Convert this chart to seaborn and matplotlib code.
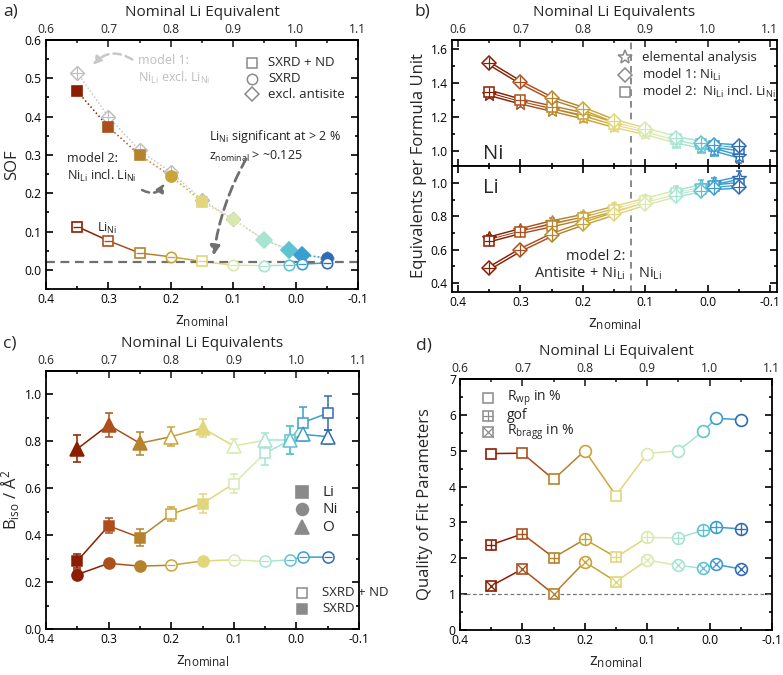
import numpy as np
import pandas as pd
import matplotlib
matplotlib.use("Agg")
import matplotlib.pyplot as plt
import seaborn as sns
from matplotlib.ticker import MultipleLocator, FixedLocator

# ---------------- data ----------------
z_nominal = [0.35, 0.30, 0.25, 0.20, 0.15, 0.10, 0.05, 0.01, -0.01, -0.05]
sample_colors = ['#8B1E00', '#AD4F1C', '#B7822C', '#C9A538', '#E2D67C',
                 '#D9E9AE', '#A7E4D1', '#5EC4D1', '#3C9DCF', '#2F6CB6']
method = ['SXRD+ND', 'SXRD+ND', 'SXRD+ND', 'SXRD', 'SXRD+ND',
          'SXRD', 'SXRD', 'SXRD', 'SXRD', 'SXRD']
top_ticks = [0.6, 0.7, 0.8, 0.9, 1.0, 1.1]
top_minor = [0.65, 0.75, 0.85, 0.95, 1.05]

# a) site occupancy fractions
sof_model1 = [0.515, 0.400, 0.312, 0.255, 0.183, 0.132, 0.078, 0.052, 0.040, 0.030]
sof_model2 = [0.466, 0.373, 0.300, 0.245, 0.178, 0.132, 0.078, 0.052, 0.039, 0.031]
shape_model2 = ['s', 's', 's', 'o', 's', 'o', 'D', 'D', 'D', 'o']
sof_lini = [0.113, 0.076, 0.044, 0.034, 0.022, 0.012, 0.011, 0.012, 0.015, 0.018]

# b) equivalents per formula unit
ni_model1 = [1.515, 1.404, 1.310, 1.250, 1.178, 1.128, 1.078, 1.048, 1.038, 1.028]
ni_model2 = [1.350, 1.298, 1.258, 1.218, 1.160, 1.120, 1.070, 1.042, 1.030, 1.010]
ni_elem = [1.335, 1.285, 1.242, 1.198, 1.147, 1.105, 1.055, 1.025, 1.008, 0.968]
li_model1 = [0.488, 0.598, 0.688, 0.755, 0.815, 0.875, 0.925, 0.955, 0.968, 0.978]
li_model2 = [0.655, 0.705, 0.745, 0.788, 0.838, 0.890, 0.940, 0.965, 0.980, 0.995]
li_elem = [0.668, 0.718, 0.765, 0.803, 0.852, 0.900, 0.948, 0.982, 0.998, 1.030]
elem_err = [0.02, 0.02, 0.025, 0.025, 0.03, 0.03, 0.035, 0.035, 0.035, 0.04]

# c) isotropic displacement parameters
biso_li = [0.290, 0.440, 0.390, 0.490, 0.535, 0.620, 0.750, 0.805, 0.880, 0.920]
biso_li_err = [0.030, 0.032, 0.035, 0.030, 0.040, 0.040, 0.050, 0.060, 0.065, 0.072]
biso_ni = [0.232, 0.280, 0.268, 0.272, 0.290, 0.295, 0.288, 0.295, 0.307, 0.306]
biso_ni_err = [0.020, 0.010, 0.010, 0.010, 0.010, 0.010, 0.010, 0.010, 0.010, 0.010]
biso_o = [0.768, 0.870, 0.792, 0.820, 0.857, 0.780, 0.805, 0.805, 0.830, 0.820]
biso_o_err = [0.058, 0.053, 0.050, 0.040, 0.040, 0.030, 0.030, 0.060, 0.030, 0.030]
filled_c = [True, True, True, False, True, False, False, False, False, False]

# d) quality of fit
rwp = [4.92, 4.93, 4.20, 5.00, 3.75, 4.92, 5.00, 5.55, 5.90, 5.87]
gof = [2.38, 2.68, 2.02, 2.53, 2.03, 2.58, 2.57, 2.78, 2.87, 2.82]
rbragg = [1.23, 1.70, 1.00, 1.90, 1.35, 1.95, 1.80, 1.72, 1.83, 1.70]

# ---------------- style ----------------
sns.set_theme(style="ticks")
plt.rcParams['font.family'] = ['Open Sans', 'DejaVu Sans']
plt.rcParams['mathtext.fontset'] = 'custom'
plt.rcParams['mathtext.rm'] = 'Open Sans'
plt.rcParams['mathtext.it'] = 'Open Sans:italic'
plt.rcParams['mathtext.bf'] = 'Open Sans:bold'
plt.rcParams['mathtext.default'] = 'regular'
plt.rcParams['axes.linewidth'] = 1.3
plt.rcParams['axes.edgecolor'] = 'black'

TICK_FS = 8.7
LAB_FS = 10.5
TXT_FS = 9

fig = plt.figure(figsize=(7.83, 6.75), dpi=100)


def shape_of(m):
    return 's' if m == 'SXRD+ND' else 'o'


def seg(ax, xs, ys, cols, **kw):
    for i in range(len(xs) - 1):
        sns.lineplot(x=list(xs[i:i + 2]), y=list(ys[i:i + 2]), color=cols[i], ax=ax,
                     sort=False, estimator=None, legend=False, **kw)


def mk(ax, x, y, shape, color, filled=True, inner=None, ms=7, mew=1.2, z=4, inner_scale=0.95,
       transform=None):
    kw = {}
    if transform is not None:
        kw = dict(transform=transform, clip_on=False)
    ax.plot([x], [y], marker=shape, ms=ms, mfc=color if filled else 'white', mec=color,
            mew=mew, ls='none', zorder=z, **kw)
    if inner:
        ax.plot([x], [y], marker=inner, ms=ms * inner_scale, mec=color, mew=mew * 0.8,
                ls='none', zorder=z + 0.1, **kw)


fmt1 = matplotlib.ticker.FuncFormatter(lambda v, p: f"{v:.1f}")


def style_ax(ax, ymajor, yminor, top_label, xlim=(0.4, -0.1)):
    ax.set_xlim(*xlim)
    ax.xaxis.set_major_locator(FixedLocator([0.4, 0.3, 0.2, 0.1, 0.0, -0.1]))
    ax.xaxis.set_minor_locator(FixedLocator([0.35, 0.25, 0.15, 0.05, -0.05]))
    ax.yaxis.set_major_locator(MultipleLocator(ymajor))
    ax.yaxis.set_minor_locator(MultipleLocator(yminor))
    ax.tick_params(which='both', direction='in', top=False, right=True, labelsize=TICK_FS,
                   width=1.2, colors='black', pad=3)
    ax.tick_params(which='major', length=5)
    ax.tick_params(which='minor', length=2.5)
    ax.xaxis.set_major_formatter(fmt1)
    ax.set_xlabel(r'z$_{nominal}$', fontsize=LAB_FS + 1.5, labelpad=5)
    if top_label:
        sec = ax.secondary_xaxis('top', functions=(lambda v: 1 - v, lambda v: 1 - v))
        sec.xaxis.set_major_locator(FixedLocator(top_ticks))
        sec.xaxis.set_minor_locator(FixedLocator(top_minor))
        sec.tick_params(which='both', direction='in', labelsize=TICK_FS, width=1.2, pad=3)
        sec.tick_params(which='major', length=5)
        sec.tick_params(which='minor', length=2.5)
        sec.xaxis.set_major_formatter(fmt1)
        sec.set_xlabel(top_label, fontsize=LAB_FS + 0.5, labelpad=5)
    for sp in ax.spines.values():
        sp.set_visible(True)
        sp.set_linewidth(1.3)


def px_axes(l, r, t, b):
    W, H = 783.0, 675.0
    return [l / W, 1 - b / H, (r - l) / W, (b - t) / H]


# ---------------- panel a ----------------
axa = fig.add_axes(px_axes(46, 358, 40, 289))
style_ax(axa, 0.1, 0.05, 'Nominal Li Equivalent')
axa.set_ylim(-0.05, 0.6)
axa.yaxis.set_major_formatter(fmt1)
axa.set_ylabel('SOF', fontsize=LAB_FS + 1.5)
axa.yaxis.set_label_coords(-0.082, 0.5)
axa.axhline(0.02, color='#707070', ls=(0, (4, 2.5)), lw=1.6, zorder=2.5)

sns.lineplot(x=z_nominal, y=sof_model1, ax=axa, color='#BDBDBD', ls=':', lw=1.0,
             sort=False, estimator=None, zorder=2)
seg(axa, z_nominal, sof_model2, sample_colors, ls=':', lw=1.1, zorder=2.2)
seg(axa, z_nominal, sof_lini, sample_colors, ls='-', lw=1.1, zorder=2.2)
for i, x in enumerate(z_nominal):
    mk(axa, x, sof_model1[i], 'D', '#BDBDBD', filled=False, inner='+', ms=7, mew=1.0, z=3,
       inner_scale=1.3)
for i, x in enumerate(z_nominal):
    mk(axa, x, sof_model2[i], shape_model2[i], sample_colors[i], filled=True,
       ms=8 if shape_model2[i] != 's' else 7.5, z=4)
    mk(axa, x, sof_lini[i], shape_of(method[i]), sample_colors[i], filled=False, inner='_',
       ms=7.5, z=4, inner_scale=0.8)

axa.text(0.252, 0.522, 'model 1:\nNi$_{Li}$ excl. Li$_{Ni}$', color='#BEBEBE', fontsize=TXT_FS,
         ha='left', va='center', linespacing=1.25)
axa.text(0.366, 0.266, 'model 2:\nNi$_{Li}$ incl. Li$_{Ni}$', color='#222222', fontsize=TXT_FS,
         ha='left', va='center', linespacing=1.25)
axa.text(0.302, 0.108, 'Li$_{Ni}$', color='#222222', fontsize=TXT_FS, ha='center', va='center')
axa.text(0.139, 0.324, 'Li$_{Ni}$ significant at > 2 %\nz$_{nominal}$ > ~0.125', color='#222222',
         fontsize=TXT_FS, ha='left', va='center', linespacing=1.35)
axa.annotate('', xy=(0.328, 0.530), xytext=(0.258, 0.545),
             arrowprops=dict(arrowstyle='-|>', color='#C8C8C8', lw=1.8, ls=(0, (3, 2)),
                             connectionstyle='arc3,rad=0.45', mutation_scale=12))
axa.annotate('', xy=(0.208, 0.232), xytext=(0.250, 0.212),
             arrowprops=dict(arrowstyle='-|>', color='#707070', lw=1.8, ls=(0, (3, 2)),
                             connectionstyle='arc3,rad=0.55', mutation_scale=12))
axa.annotate('', xy=(0.132, 0.030), xytext=(0.077, 0.296),
             arrowprops=dict(arrowstyle='-|>', color='#707070', lw=2.0, ls=(0, (3.5, 2)),
                             connectionstyle='arc3,rad=0.1', mutation_scale=14))

# legend a
leg_a = [('s', 'SXRD + ND'), ('o', 'SXRD'), ('D', 'excl. antisite')]
for (shp, lab), yy in zip(leg_a, [0.908, 0.845, 0.783]):
    mk(axa, 0.660, yy, shp, '#8A8A8A', filled=False, ms=7.5 if shp != 'D' else 7, mew=1.1,
       transform=axa.transAxes)
    axa.text(0.712, yy, lab, transform=axa.transAxes, fontsize=TXT_FS + 0.5, va='center', ha='left')

# ---------------- panel b ----------------
xlim_b = (0.4 + 6 / 624, -0.1 - 7 / 624)
axb1 = fig.add_axes(px_axes(452, 777, 40, 166))
axb2 = fig.add_axes(px_axes(452, 777, 166, 292))
style_ax(axb1, 0.2, 0.1, 'Nominal Li Equivalents', xlim=xlim_b)
style_ax(axb2, 0.2, 0.1, None, xlim=xlim_b)
axb1.set_ylim(0.912, 1.653)
axb2.set_ylim(0.346, 1.102)
axb1.set_xlabel('')
axb1.tick_params(labelbottom=False, bottom=True)
axb2.tick_params(top=True, which='both')
for axx in (axb1, axb2):
    axx.yaxis.set_major_formatter(fmt1)
    axx.axvline(0.122, color='#777777', ls=(0, (4, 3)), lw=1.2, zorder=1)
fig.text(419 / 783, 1 - 166 / 675, 'Equivalents per Formula Unit', rotation=90,
         ha='center', va='center', fontsize=LAB_FS + 1.5)


def double_line(ax, ys):
    seg(ax, z_nominal, ys, sample_colors, ls='-', lw=3.0, zorder=2)
    sns.lineplot(x=z_nominal, y=ys, ax=ax, color='white', lw=0.9, sort=False,
                 estimator=None, zorder=2.1)


for axx, m1, m2, el in ((axb1, ni_model1, ni_model2, ni_elem),
                        (axb2, li_model1, li_model2, li_elem)):
    double_line(axx, m1)
    double_line(axx, m2)
    double_line(axx, el)
    for i, x in enumerate(z_nominal):
        c = sample_colors[i]
        axx.errorbar([x], [el[i]], yerr=[elem_err[i]], fmt='none', ecolor=c, elinewidth=1.1,
                     capsize=2.5, capthick=1.1, zorder=3)
        mk(axx, x, el[i], '*', c, filled=False, inner='+', ms=10, mew=1.0, z=3.5,
           inner_scale=0.55)
        mk(axx, x, m2[i], 's', c, filled=False, inner='+', ms=7, mew=1.1, z=4)
        mk(axx, x, m1[i], 'D', c, filled=False, inner='+', ms=7, mew=1.1, z=4.5,
           inner_scale=1.3)

axb1.text(0.36, 0.985, 'Ni', fontsize=LAB_FS + 4, ha='left', va='center')
axb2.text(0.36, 0.968, 'Li', fontsize=LAB_FS + 4, ha='left', va='center')
axb2.text(0.132, 0.562, 'model 2:', fontsize=TXT_FS + 1.5, ha='right', va='center')
axb2.text(0.132, 0.455, 'Antisite + Ni$_{Li}$', fontsize=TXT_FS + 1.5, ha='right', va='center')
axb2.text(0.112, 0.455, 'Ni$_{Li}$', fontsize=TXT_FS + 1.5, ha='left', va='center')

leg_b = [('*', 'elemental analysis'), ('D', 'model 1: Ni$_{Li}$'),
         ('s', 'model 2:  Ni$_{Li}$ incl. Li$_{Ni}$')]
for (shp, lab), yy in zip(leg_b, [0.865, 0.722, 0.587]):
    mk(axb1, 0.532, yy, shp, '#8A8A8A', filled=False,
       ms={'*': 10.5, 'D': 7, 's': 7}[shp], mew=1.1, transform=axb1.transAxes)
    axb1.text(0.585, yy, lab, transform=axb1.transAxes, fontsize=TXT_FS + 0.5, va='center', ha='left')

# ---------------- panel c ----------------
axc = fig.add_axes(px_axes(46, 359, 371, 629))
style_ax(axc, 0.2, 0.1, 'Nominal Li Equivalents')
axc.set_ylim(0.0, 1.1)
axc.yaxis.set_major_formatter(fmt1)
axc.set_ylabel('B$_{iso}$ / Å$^{2}$', fontsize=LAB_FS + 1.5)
axc.yaxis.set_label_coords(-0.078, 0.5)

for ys, errs, shp, ms, inner in ((biso_li, biso_li_err, 's', 7.5, None),
                                 (biso_ni, biso_ni_err, 'o', 8, '_'),
                                 (biso_o, biso_o_err, '^', 9.5, None)):
    seg(axc, z_nominal, ys, sample_colors, ls='-', lw=1.1, zorder=2)
    for i, x in enumerate(z_nominal):
        c = sample_colors[i]
        axc.errorbar([x], [ys[i]], yerr=[errs[i]], fmt='none', ecolor=c, elinewidth=1.1,
                     capsize=3, capthick=1.1, zorder=3)
        mk(axc, x, ys[i], shp, c, filled=filled_c[i], inner=None if filled_c[i] else inner,
           ms=ms, mew=1.1, z=4, inner_scale=0.75)

for (shp, lab, ms), yy in zip([('s', 'Li', 8), ('o', 'Ni', 8.5), ('^', 'O', 9.5)],
                              [0.531, 0.465, 0.394]):
    mk(axc, 0.818, yy, shp, '#8A8A8A', filled=True, ms=ms, transform=axc.transAxes)
    axc.text(0.882, yy, lab, transform=axc.transAxes, fontsize=TXT_FS + 2, va='center', ha='left')
for (fl, lab), yy in zip([(False, 'SXRD + ND'), (True, 'SXRD')], [0.140, 0.078]):
    mk(axc, 0.818, yy, 's', '#8A8A8A', filled=fl, ms=7, mew=1.1, transform=axc.transAxes)
    axc.text(0.882, yy, lab, transform=axc.transAxes, fontsize=TXT_FS + 0.5, va='center', ha='left')

# ---------------- panel d ----------------
axd = fig.add_axes(px_axes(460, 772, 379, 630))
style_ax(axd, 1, 0.5, 'Nominal Li Equivalent')
axd.set_ylim(0, 7)
axd.set_ylabel('Quality of Fit Parameters', fontsize=LAB_FS + 1.5)
axd.yaxis.set_label_coords(-0.087, 0.5)
axd.axhline(1.0, color='#777777', ls=(0, (3, 2)), lw=0.9, zorder=1)
for ys, inner in ((rwp, None), (gof, '+'), (rbragg, 'x')):
    seg(axd, z_nominal, ys, sample_colors, ls='-', lw=1.1, zorder=2)
    for i, x in enumerate(z_nominal):
        shp = shape_of(method[i])
        sc = 0.95 if (inner == '+' or shp == 's') else 0.68
        mk(axd, x, ys[i], shp, sample_colors[i], filled=False, inner=inner,
           ms=7.5 if shp == 's' else 8.5, mew=1.2, z=4, inner_scale=sc)

for (inner, lab), yy in zip([(None, 'R$_{wp}$ in %'), ('+', 'gof'), ('x', 'R$_{bragg}$ in %')],
                            [0.924, 0.853, 0.789]):
    mk(axd, 0.090, yy, 's', '#8A8A8A', filled=False, inner=inner, ms=7, mew=1.1,
       transform=axd.transAxes)
    axd.text(0.151, yy, lab, transform=axd.transAxes, fontsize=TXT_FS + 1, va='center', ha='left')

# panel labels
for lab, (px, py) in zip(['a)', 'b)', 'c)', 'd)'], [(3, 11), (414, 11), (3, 343), (416, 345)]):
    fig.text(px / 783, 1 - py / 675, lab, fontsize=LAB_FS + 2, ha='left', va='center')

fig.savefig('out.png', dpi=100)
